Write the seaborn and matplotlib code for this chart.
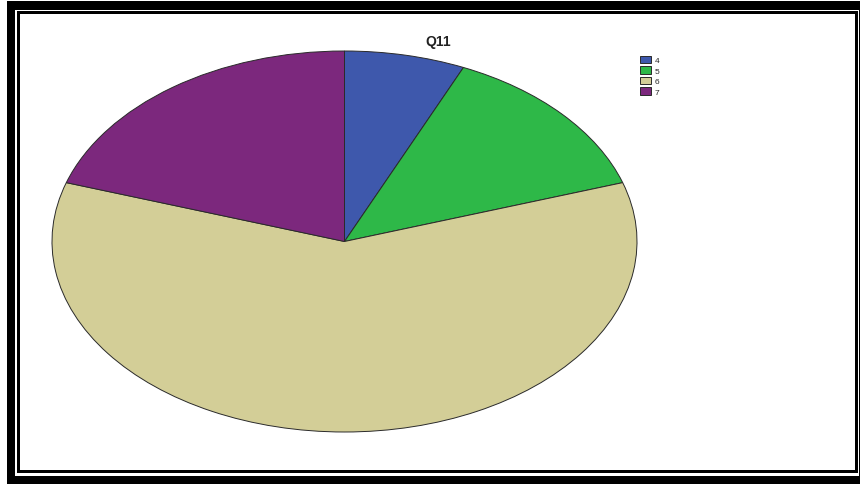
import matplotlib
matplotlib.use("Agg")
import matplotlib.pyplot as plt
from matplotlib.patches import Rectangle
import seaborn as sns

# Response counts for question Q11
categories = ["4", "5", "6", "7"]
counts = [1, 2, 9, 3]
chart_title = "Q11"

sns.set_theme(style="white")
plt.rcParams["font.family"] = ["Liberation Sans", "DejaVu Sans"]

colors = sns.color_palette(["#3E58AC", "#2EB848", "#D3CE97", "#7C287D"])

W, H = 860, 485
fig = plt.figure(figsize=(W / 100, H / 100), dpi=100)
fig.patch.set_facecolor("white")


def box(x0, y0, x1, y1, color):
    """Filled rectangle given in top-left pixel coordinates."""
    r = Rectangle((x0 / W, 1 - y1 / H), (x1 - x0) / W, (y1 - y0) / H,
                  transform=fig.transFigure, facecolor=color,
                  edgecolor="none", zorder=-5)
    fig.add_artist(r)


# Double border around the chart
box(7, 2, 860, 485, "black")
box(15, 11, 859, 477, "white")
box(17, 12, 858, 474, "black")
box(20, 15, 855, 471, "white")

# Pie stretched into an ellipse
ax = fig.add_axes([52 / W, 52 / H, 585 / W, 381 / H])
wedges, _ = ax.pie(counts, colors=colors, startangle=90, counterclock=False,
                   radius=1.0,
                   wedgeprops=dict(edgecolor="#2a2a2a", linewidth=0.7))
ax.set_aspect("auto")
ax.set_xlim(-1.0, 1.0)
ax.set_ylim(-1.0, 1.0)
ax.axis("off")
ax.patch.set_alpha(0)

fig.text(438 / W, 1 - 42 / H, chart_title, ha="center", va="center",
         fontsize=10, fontweight="bold", color="#222222")

fig.legend(wedges, categories, loc="upper left",
           bbox_to_anchor=(634 / W, 1 - 51 / H), frameon=False,
           fontsize=6, handlelength=1.35, handleheight=1.0,
           labelspacing=0.22, handletextpad=0.4, borderpad=0.2)

fig.savefig("out.png", dpi=100)
